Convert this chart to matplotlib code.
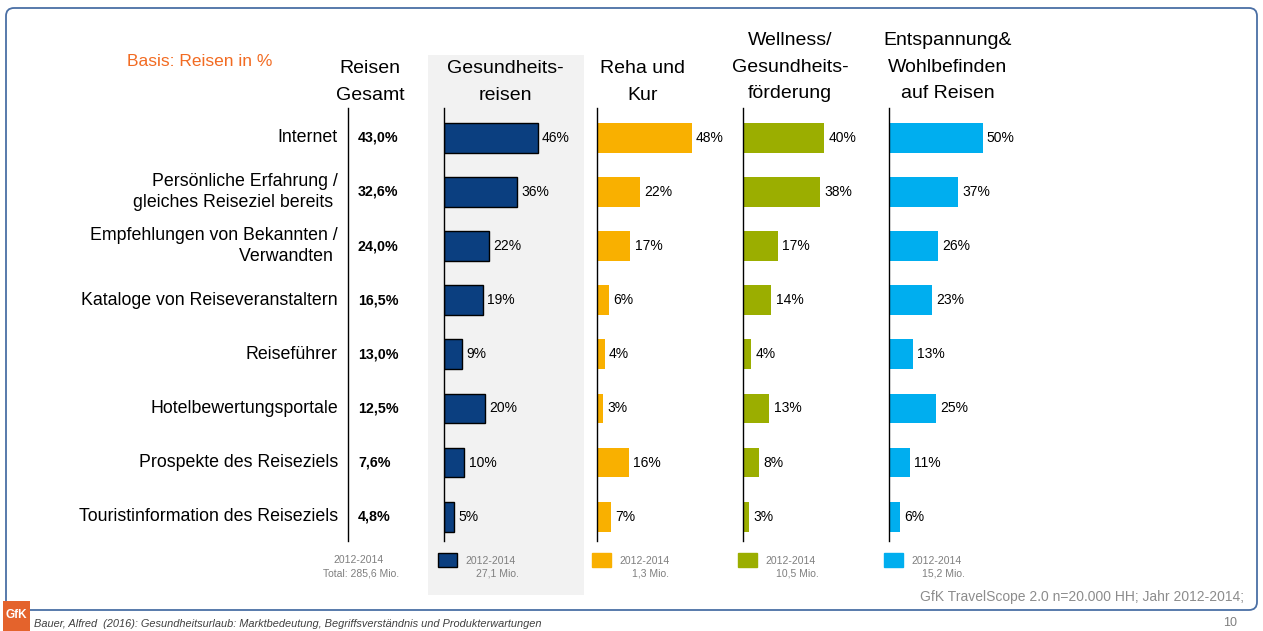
import numpy as np
import matplotlib.pyplot as plt
from matplotlib.patches import Rectangle, FancyBboxPatch

plt.rcParams['font.family'] = ['Liberation Sans', 'DejaVu Sans']

categories = ['Internet', 'Persönliche Erfahrung /\ngleiches Reiseziel bereits ',
              'Empfehlungen von Bekannten /\nVerwandten ', 'Kataloge von Reiseveranstaltern',
              'Reiseführer', 'Hotelbewertungsportale', 'Prospekte des Reiseziels',
              'Touristinformation des Reiseziels']
gesamt = ['43,0%', '32,6%', '24,0%', '16,5%', '13,0%', '12,5%', '7,6%', '4,8%']
gesundheit = [46, 36, 22, 19, 9, 20, 10, 5]
reha = [48, 22, 17, 6, 4, 3, 16, 7]
wellness = [40, 38, 17, 14, 4, 13, 8, 3]
entspannung = [50, 37, 26, 23, 13, 25, 11, 6]

headers = ['Gesundheits-\nreisen', 'Reha und\nKur', 'Wellness/\nGesundheits-\nförderung',
           'Entspannung&\nWohlbefinden\nauf Reisen']
legend_mio = ['27,1 Mio.', '1,3 Mio.', '10,5 Mio.', '15,2 Mio.']
colors = ['#0B3F80', '#F9B000', '#9BAE00', '#00AEEF']

W, H = 1263, 631
fig = plt.figure(figsize=(W / 100, H / 100), dpi=100)

# background layer in pixel coordinates
bg = fig.add_axes([0, 0, 1, 1], zorder=0)
bg.set_xlim(0, W)
bg.set_ylim(H, 0)
bg.axis('off')

bg.add_patch(Rectangle((428, 55), 156, 540, color='#F2F2F2', lw=0))
bg.add_patch(FancyBboxPatch((6, 8), 1251, 602, boxstyle='round,pad=0,rounding_size=8',
                            fc='none', ec='#4A6FA5', lw=1.3))
bg.add_patch(Rectangle((3, 601), 27, 30, color='#E4632C', lw=0, zorder=3))
bg.text(16.5, 615, 'GfK', color='white', fontsize=8.5, ha='center', va='center',
        weight='bold', zorder=4)

bg.text(127, 61, 'Basis: Reisen in %', color='#F26B22', fontsize=12.5, ha='left', va='center')
bg.text(370, 82, 'Reisen\nGesamt', fontsize=14, ha='center', va='center', linespacing=1.72)
for x, y, h in zip([505, 643, 790, 948], [82, 82, 67, 67], headers):
    bg.text(x, y, h, fontsize=14, ha='center', va='center', linespacing=1.72)

# legend
grey = '#7F7F7F'
bg.text(359, 560, '2012-2014', fontsize=7.5, color=grey, ha='center', va='center')
bg.text(361, 574, 'Total: 285,6 Mio.', fontsize=7.5, color=grey, ha='center', va='center')
for x0, c, mio, i in zip([438, 592, 738, 884], colors, legend_mio, range(4)):
    bg.add_patch(Rectangle((x0, 553), 19, 14, fc=c, ec='black' if i == 0 else c, lw=1))
    bg.text(x0 + 53, 561, '2012-2014', fontsize=7.5, color=grey, ha='center', va='center')
    bg.text(x0 + 59, 574, mio, fontsize=7.5, color=grey, ha='center', va='center')

bg.text(1244, 597, 'GfK TravelScope 2.0 n=20.000 HH; Jahr 2012-2014;', fontsize=10,
        color='#8C8C8C', ha='right', va='center')
bg.text(34, 624, 'Bauer, Alfred  (2016): Gesundheitsurlaub: Marktbedeutung, Begriffsverständnis und Produkterwartungen',
        fontsize=7.9, style='italic', color='#404040', ha='left', va='center')
bg.text(1230, 623, '10', fontsize=9, color='#7F7F7F', ha='center', va='center')

top, bottom = 108, 541
rows = np.arange(len(categories))


def panel_axes(left, width):
    ax = fig.add_axes([left / W, 1 - bottom / H, width / W, (bottom - top) / H], zorder=2)
    ax.set_facecolor('none')
    ax.set_ylim(7.45, -0.55)
    for s in ['top', 'right', 'bottom']:
        ax.spines[s].set_visible(False)
    ax.spines['left'].set_linewidth(1)
    ax.set_xticks([])
    ax.set_yticks([])
    return ax


# Reisen gesamt column
axg = panel_axes(348, 70)
axg.set_xlim(0, 70)
for i, (lab, val) in enumerate(zip(categories, gesamt)):
    axg.text(-10, i, lab, fontsize=12.8, ha='right', va='center', multialignment='right',
             linespacing=1.25)
    axg.text(10, i, val, fontsize=10.3, weight='bold', ha='left', va='center')

# bar panels
panels = [(444, 2.04, gesundheit), (597, 1.97, reha), (743, 2.03, wellness), (889, 1.87, entspannung)]
for k, ((x0, scale, vals), c) in enumerate(zip(panels, colors)):
    ax = panel_axes(x0, 130)
    ax.set_xlim(0, 130 / scale)
    bars = ax.barh(rows, vals, height=0.55, color=c,
                   edgecolor='black' if k == 0 else c, linewidth=1 if k == 0 else 0)
    ax.bar_label(bars, labels=[f'{v}%' for v in vals], padding=3, fontsize=10)

fig.savefig('out.png', dpi=100)
